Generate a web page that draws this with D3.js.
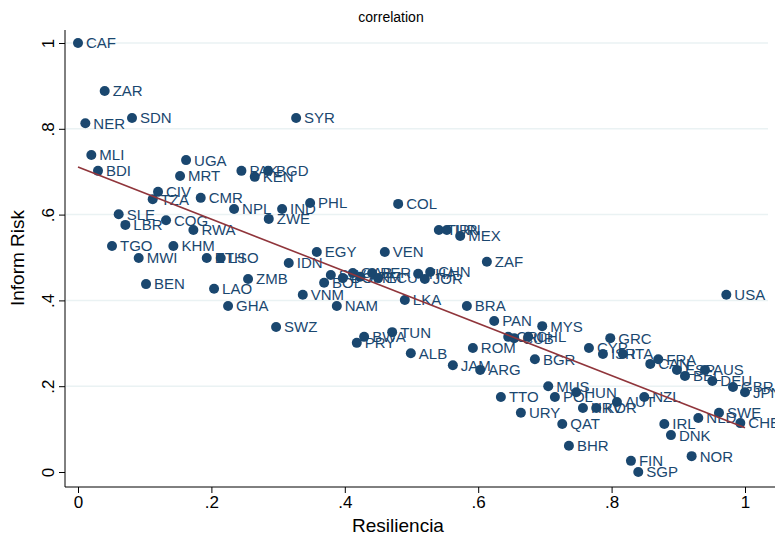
<!DOCTYPE html>
<html>
<head>
<meta charset="utf-8">
<script src="https://cdn.jsdelivr.net/npm/d3@7"></script>
<style>
  body { margin: 0; background: #fff; }
  svg { font-family: "Liberation Sans", Arial, sans-serif; }
  .narrow { font-family: "Liberation Sans Narrow", "Liberation Sans", Arial, sans-serif; }
</style>
</head>
<body>
<svg width="775" height="539"></svg>
<script>
// country codes, resilience (x) and inform risk (y)
const codes = ['CAF','ZAR','NER','SDN','MLI','BDI','UGA','MRT','PAK','BGD','KEN','SYR',
  'CIV','TZA','CMR','SLE','LBR','COG','RWA','NPL','IND','PHL','ZWE','COL',
  'TGO','KHM','MWI','ETH','LSO','BEN','LAO','ZMB','GHA','IDN','EGY','VEN',
  'TUR','IRN','MEX','ZAF','SLV','DOM','GAB','ARM','PER','ECU','THA','JOR','CHN',
  'BOL','VNM','NAM','LKA','BRA','SWZ','TUN','BWA','PRY','ALB','ROM','JAM','ARG',
  'PAN','CRI','CUB','CHL','MYS','BGR','USA','GRC','CYP','ISR','ITA','CAN','FRA',
  'ESP','BEL','AUS','DEU','GBR','JPN','MUS','TTO','POL','HUN','URY','HRV','KOR',
  'AUT','NZL','QAT','BHR','FIN','SGP','IRL','DNK','NLD','SWE','CHE','NOR'];
const resil = [0.000,0.040,0.011,0.081,0.020,0.030,0.162,0.153,0.245,0.285,0.265,0.327,
  0.120,0.112,0.184,0.061,0.071,0.132,0.173,0.234,0.306,0.348,0.286,0.480,
  0.051,0.143,0.091,0.193,0.214,0.102,0.204,0.255,0.225,0.316,0.358,0.460,
  0.541,0.553,0.573,0.613,0.379,0.397,0.412,0.423,0.441,0.450,0.510,0.520,0.528,
  0.369,0.337,0.388,0.490,0.583,0.297,0.471,0.429,0.418,0.499,0.592,0.562,0.603,
  0.624,0.645,0.654,0.675,0.696,0.685,0.972,0.798,0.766,0.787,0.817,0.858,0.870,
  0.898,0.910,0.940,0.951,0.982,1.000,0.705,0.634,0.715,0.747,0.664,0.757,0.777,
  0.808,0.849,0.726,0.736,0.829,0.840,0.879,0.889,0.930,0.961,0.993,0.920];
const risk = [1.000,0.888,0.813,0.825,0.739,0.702,0.727,0.690,0.702,0.702,0.688,0.825,
  0.653,0.636,0.639,0.601,0.576,0.587,0.564,0.613,0.613,0.627,0.590,0.625,
  0.527,0.527,0.499,0.499,0.499,0.438,0.427,0.450,0.387,0.487,0.513,0.513,
  0.564,0.564,0.550,0.490,0.459,0.452,0.464,0.455,0.464,0.452,0.462,0.450,0.466,
  0.441,0.413,0.387,0.401,0.387,0.338,0.326,0.315,0.301,0.277,0.289,0.249,0.238,
  0.352,0.315,0.312,0.315,0.340,0.263,0.413,0.312,0.289,0.275,0.275,0.252,0.263,
  0.238,0.224,0.238,0.212,0.198,0.186,0.200,0.175,0.175,0.186,0.138,0.149,0.149,
  0.163,0.175,0.112,0.061,0.026,0.000,0.112,0.086,0.126,0.138,0.114,0.037];
// fitted line end points
const fitX = [0, 1];
const fitY = [0.711, 0.103];
const ticks = [0, 0.2, 0.4, 0.6, 0.8, 1];
const tickLabels = ['0', '.2', '.4', '.6', '.8', '1'];

const navy = '#1a476f', maroon = '#90353b', grid = '#eaf2f3';
const svg = d3.select('svg');

const x = d3.scaleLinear().domain([0, 1]).range([78, 745]);
const y = d3.scaleLinear().domain([0, 1]).range([472, 43]);
const fmt = d => tickLabels[ticks.indexOf(d)];

// grid lines
svg.append('g').selectAll('line').data(ticks.slice(1)).enter().append('line')
  .attr('x1', 66).attr('x2', 768)
  .attr('y1', d => y(d)).attr('y2', d => y(d))
  .attr('stroke', grid).attr('stroke-width', 1.5);

// axes
const yAxis = svg.append('g').attr('transform', 'translate(65,0)')
  .call(d3.axisLeft(y).tickValues(ticks).tickFormat(fmt).tickSize(6).tickPadding(0));
yAxis.select('.domain').remove();
yAxis.selectAll('text').remove();
yAxis.selectAll('.tick').append('text')
  .attr('class', 'narrow')
  .attr('transform', 'translate(-17,0) rotate(-90)')
  .attr('text-anchor', 'middle')
  .attr('dy', '0.35em')
  .attr('fill', '#000')
  .style('font-size', '17px')
  .text(fmt);

const xAxis = svg.append('g').attr('transform', 'translate(0,487)')
  .call(d3.axisBottom(x).tickValues(ticks).tickFormat(fmt).tickSize(6).tickPadding(3));
xAxis.select('.domain').remove();
xAxis.selectAll('text').attr('class', 'narrow').style('font-size', '17px').attr('fill', '#000');
svg.selectAll('.tick line').attr('stroke', '#000');

svg.append('line').attr('x1', 65).attr('x2', 65).attr('y1', 30).attr('y2', 487)
  .attr('stroke', '#000').attr('stroke-width', 1);
svg.append('line').attr('x1', 65).attr('x2', 775).attr('y1', 487).attr('y2', 487)
  .attr('stroke', '#000').attr('stroke-width', 1);

// titles
svg.append('text').attr('x', 391).attr('y', 22).attr('text-anchor', 'middle')
  .attr('class', 'narrow').style('font-size', '14px').text('correlation');
svg.append('text').attr('x', 398).attr('y', 532).attr('text-anchor', 'middle')
  .attr('class', 'narrow').style('font-size', '19px').text('Resiliencia');
svg.append('text').attr('transform', 'translate(24,258) rotate(-90)').attr('text-anchor', 'middle')
  .attr('class', 'narrow').style('font-size', '19px').text('Inform Risk');

// points and labels
const pts = codes.map((c, i) => ({ code: c, x: resil[i], y: risk[i] }));
const g = svg.append('g');
g.selectAll('circle').data(pts).enter().append('circle')
  .attr('cx', d => x(d.x)).attr('cy', d => y(d.y)).attr('r', 5)
  .attr('fill', navy);
g.selectAll('text').data(pts).enter().append('text')
  .attr('x', d => x(d.x) + 8).attr('y', d => y(d.y)).attr('dy', '0.36em')
  .attr('fill', navy).style('font-size', '15px')
  .text(d => d.code);

// fitted values
svg.append('path')
  .datum(fitX.map((v, i) => [v, fitY[i]]))
  .attr('d', d3.line().x(d => x(d[0])).y(d => y(d[1])))
  .attr('stroke', maroon).attr('stroke-width', 1.6).attr('fill', 'none');
</script>
</body>
</html>
